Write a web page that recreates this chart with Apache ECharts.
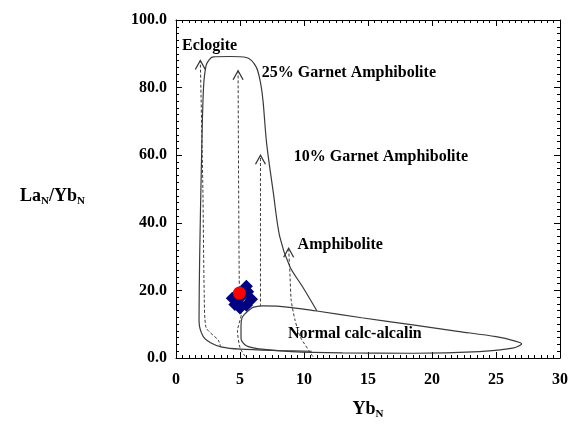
<!DOCTYPE html>
<html>
<head>
<meta charset="utf-8">
<script src="https://cdn.jsdelivr.net/npm/echarts@6/dist/echarts.min.js"></script>
<style>
  html, body { margin: 0; padding: 0; background: #fff; }
  #chart { width: 571px; height: 426px; }
</style>
</head>
<body>
<div id="chart"></div>
<script>
// envelopes (solid outlines)
var garnet25Envelope = [[11.0,14.0],[9.9,21],[8.9,27],[8.1,36],[7.6,49],[7.08,63.5],[6.8,76],[6.6,81.5],[6.25,86.2],[5.5,88.9],[4.2,89.2],[2.9,89.1],[2.6,88.3],[2.35,86.5],[2.15,80],[2.0,60],[1.85,30],[1.8,11],[2.1,6.5],[2.7,4.5],[3.6,3.2],[5,2.6],[8,2.2],[10.6,2.0]]
var calcAlkalinEnvelope = [[6.0,15.0],[6.8,15.4],[8.1,15.3],[11,13.9],[14.5,11.9],[18.5,9.8],[22,7.9],[25,6.3],[26.5,5.0],[27.0,4.2],[26.3,2.9],[23.7,1.9],[18.5,1.4],[13,1.5],[9,1.9],[6.5,2.7],[5.5,3.6],[5.08,5.8],[5.08,9.3],[5.2,12.2],[6.0,15.0]]

// dashed arrows, last point = arrow tip
var eclogiteArrow = [[3.5,3.2],[3.3,5.3],[2.35,9],[2.2,20],[2.1,50],[1.9,88]]
var garnet25Arrow = [[5.4,0.5],[5.0,3],[4.8,8],[5.1,13],[4.95,20],[4.85,85]]
var garnet10Arrow = [[6.6,15.3],[6.6,60]]
var amphiboliteArrow = [[10.7,0.4],[9.7,6.3],[9.3,11.2],[9.0,17],[8.9,25],[8.8,32.5]]

// samples
var samplesBlue = [[5.5,21.2],[4.4,17.7],[5.9,17.4],[5.0,14.8],[4.6,15.8],[5.5,15.6],[5.6,19.6],[5.1,18.1],[4.8,16.6]]
var samplesRed = [[4.95,19.2]]

// field labels [x, y, text]
var fieldLabels = [
  [0.47, 92.3, 'Eclogite'],
  [6.7, 84.3, '25% Garnet Amphibolite'],
  [9.2, 59.5, '10% Garnet Amphibolite'],
  [9.5, 33.4, 'Amphibolite'],
  [8.75, 7.1, 'Normal calc-alcalin']
]

var xTicks = [0, 5, 10, 15, 20, 25, 30]
var yTicks = [0, 20, 40, 60, 80, 100]

var serif = 'Liberation Serif'
var arrowTips = [eclogiteArrow, garnet25Arrow, garnet10Arrow, amphiboliteArrow].map(function (a) { return a[a.length - 1] })

function envelope(data) {
  return {
    type: 'line', data: data, symbol: 'none', smooth: 0.3, silent: true,
    lineStyle: { color: '#3a3a3a', width: 1.2 }
  }
}
function dashed(data) {
  return {
    type: 'line', data: data, symbol: 'none', smooth: 0.2, silent: true,
    lineStyle: { color: '#3a3a3a', width: 1, type: [3, 2] }
  }
}

var axisCommon = {
  type: 'value',
  axisLine: { show: true, onZero: false, lineStyle: { color: '#000', width: 1 } },
  axisTick: { show: true, inside: true, length: 6, lineStyle: { color: '#000' } },
  minorTick: { show: true, splitNumber: 10, length: 3, lineStyle: { color: '#000' } },
  splitLine: { show: false }
}

var chart = echarts.init(document.getElementById('chart'))
chart.setOption({
  animation: false,
  backgroundColor: '#fff',
  grid: { left: 176, right: 11, top: 20, bottom: 68 },
  xAxis: [
    Object.assign({}, axisCommon, {
      min: xTicks[0], max: xTicks[xTicks.length - 1], interval: 5,
      name: '{a|Yb}{s|N}', nameLocation: 'middle', nameGap: 41,
      nameTextStyle: {
        rich: {
          a: { fontFamily: serif, fontWeight: 'bold', fontSize: 18, color: '#000' },
          s: { fontFamily: serif, fontWeight: 'bold', fontSize: 11, color: '#000', padding: [10, 0, 0, 0] }
        }
      },
      axisLabel: { fontFamily: serif, fontWeight: 'bold', fontSize: 16, color: '#000', margin: 14 }
    }),
    Object.assign({}, axisCommon, {
      position: 'top', min: 0, max: 30, interval: 5, axisLabel: { show: false }
    })
  ],
  yAxis: [
    Object.assign({}, axisCommon, {
      min: yTicks[0], max: yTicks[yTicks.length - 1], interval: 20,
      name: '{a|La}{s|N}{a|/Yb}{s|N}', nameLocation: 'middle', nameRotate: 0, nameGap: 91,
      nameTextStyle: {
        align: 'right',
        padding: [14, 0, 0, 0],
        rich: {
          a: { fontFamily: serif, fontWeight: 'bold', fontSize: 18, color: '#000' },
          s: { fontFamily: serif, fontWeight: 'bold', fontSize: 11, color: '#000', padding: [10, 0, 0, 0] }
        }
      },
      axisLabel: {
        fontFamily: serif, fontWeight: 'bold', fontSize: 16, color: '#000', margin: 9,
        formatter: function (v) { return v.toFixed(1) }
      }
    }),
    Object.assign({}, axisCommon, {
      position: 'right', min: 0, max: 100, interval: 20, axisLabel: { show: false }
    })
  ],
  series: [
    envelope(garnet25Envelope),
    envelope(calcAlkalinEnvelope),
    dashed(eclogiteArrow),
    dashed(garnet25Arrow),
    dashed(garnet10Arrow),
    dashed(amphiboliteArrow),
    {
      // open arrowheads
      type: 'scatter', data: arrowTips, silent: true,
      symbol: 'path://M0,10 L5,0 L10,10', symbolSize: [10, 9], symbolOffset: [0, '50%'],
      itemStyle: { color: 'rgba(0,0,0,0)', borderColor: '#333', borderWidth: 1.2, opacity: 1 }
    },
    {
      type: 'scatter', data: samplesBlue, symbol: 'diamond', symbolSize: 13, z: 5,
      itemStyle: { color: '#000080', opacity: 1 }
    },
    {
      type: 'scatter', data: samplesRed, symbol: 'circle', symbolSize: 13, z: 6,
      itemStyle: { color: '#ff0000', opacity: 1 }
    },
    {
      type: 'scatter', data: fieldLabels, symbolSize: 0, silent: true,
      itemStyle: { opacity: 1 },
      label: {
        show: true, position: 'right', distance: 0,
        fontFamily: serif, fontWeight: 'bold', fontSize: 16, color: '#000',
        formatter: function (p) { return p.data[2] }
      }
    }
  ]
})
</script>
</body>
</html>
